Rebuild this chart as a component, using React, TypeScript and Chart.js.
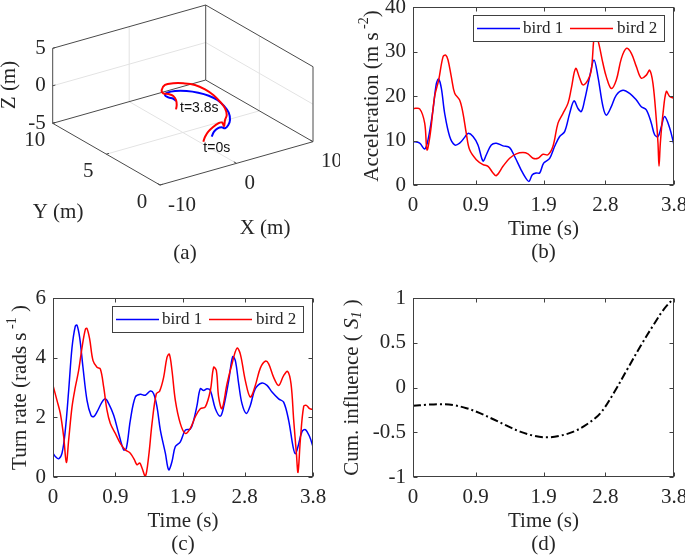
import React, { useEffect, useRef } from "react";
import { Chart, registerables } from "chart.js";

Chart.register(...registerables);

// ---------- shared ----------
const seriesNames = ["bird 1", "bird 2"];
const timeTickValues = [0, 0.91, 1.9, 2.8, 3.8];
const timeTickLabels = ["0", "0.9", "1.9", "2.8", "3.8"];

// ---------- (b) acceleration ----------
const accTime1 = [0, 0.097, 0.17, 0.218, 0.291, 0.34, 0.374, 0.413, 0.461, 0.534, 0.607, 0.679, 0.752, 0.801, 0.874, 0.946, 1.019, 1.068, 1.14, 1.213, 1.31, 1.407, 1.48, 1.577, 1.64, 1.689, 1.737, 1.796, 1.844, 1.902, 1.99, 2.063, 2.135, 2.208, 2.281, 2.344, 2.402, 2.451, 2.499, 2.572, 2.635, 2.693, 2.766, 2.815, 2.887, 2.96, 3.057, 3.154, 3.252, 3.324, 3.397, 3.47, 3.518, 3.567, 3.615, 3.664, 3.737, 3.8];
const accBird1 = [9.8, 9.4, 8.1, 10.1, 16.9, 22.8, 23.8, 21.7, 16.1, 10.9, 9.0, 9.4, 10.7, 11.6, 10.9, 9.0, 5.4, 6.8, 9.0, 9.4, 8.8, 8.4, 6.4, 3.3, 1.6, 0.8, 2.3, 2.7, 2.7, 4.9, 6.0, 8.7, 10.9, 12.0, 16.1, 18.9, 17.2, 16.5, 19.1, 24.3, 28.1, 24.3, 17.6, 15.7, 17.6, 20.2, 21.3, 20.6, 19.1, 17.6, 16.9, 13.9, 11.3, 10.9, 13.1, 15.4, 12.8, 9.0];
const accTime2 = [0, 0.097, 0.17, 0.204, 0.252, 0.315, 0.374, 0.437, 0.476, 0.51, 0.558, 0.607, 0.679, 0.728, 0.776, 0.825, 0.922, 1.019, 1.092, 1.165, 1.213, 1.31, 1.407, 1.504, 1.601, 1.674, 1.747, 1.82, 1.893, 1.965, 2.038, 2.111, 2.184, 2.257, 2.305, 2.368, 2.427, 2.475, 2.548, 2.596, 2.645, 2.693, 2.766, 2.815, 2.887, 2.96, 3.033, 3.106, 3.179, 3.252, 3.324, 3.397, 3.446, 3.494, 3.543, 3.567, 3.582, 3.601, 3.64, 3.688, 3.737, 3.8];
const accBird2 = [17.2, 17.1, 13.9, 7.9, 11.6, 19.9, 23.6, 28.8, 29.2, 28.1, 24.3, 20.6, 19.1, 16.1, 11.6, 7.9, 5.7, 4.6, 4.2, 2.7, 2.1, 4.2, 6.0, 7.0, 7.3, 7.0, 6.0, 6.0, 6.9, 6.8, 8.7, 13.9, 16.1, 18.4, 21.7, 26.2, 24.0, 22.5, 23.6, 25.8, 34.0, 32.5, 27.3, 24.3, 21.7, 23.6, 28.4, 30.7, 29.6, 26.6, 24.0, 24.7, 25.8, 22.8, 14.6, 9.4, 4.2, 9.4, 16.1, 21.0, 19.9, 19.5];
const accTickValues = [0, 10, 20, 30, 40];
const accTickLabels = ["0", "10", "20", "30", "40"];

// ---------- (c) turn rate ----------
const turnTime1 = [0, 0.034, 0.083, 0.132, 0.18, 0.229, 0.278, 0.326, 0.351, 0.39, 0.438, 0.497, 0.555, 0.594, 0.643, 0.716, 0.765, 0.814, 0.887, 0.96, 1.033, 1.072, 1.13, 1.203, 1.276, 1.35, 1.423, 1.471, 1.52, 1.569, 1.642, 1.691, 1.739, 1.788, 1.861, 1.934, 2.007, 2.056, 2.105, 2.153, 2.202, 2.251, 2.3, 2.373, 2.446, 2.494, 2.568, 2.626, 2.665, 2.714, 2.762, 2.826, 2.884, 2.957, 3.055, 3.128, 3.201, 3.298, 3.371, 3.444, 3.508, 3.542, 3.581, 3.639, 3.688, 3.751, 3.8];
const turnBird1 = [0.8, 0.69, 0.61, 0.8, 1.57, 2.9, 4.34, 5.06, 5.09, 4.67, 3.68, 2.57, 2.07, 2.02, 2.18, 2.51, 2.62, 2.46, 2.07, 1.46, 0.91, 0.96, 1.9, 2.68, 2.77, 2.74, 2.88, 2.79, 2.35, 1.57, 0.8, 0.24, 0.52, 1.02, 1.18, 1.57, 1.61, 1.9, 2.4, 2.96, 2.9, 2.96, 2.9, 2.29, 2.04, 2.35, 3.23, 4.03, 3.9, 3.12, 2.46, 2.13, 2.4, 2.96, 3.15, 3.07, 2.85, 2.62, 2.51, 1.9, 1.02, 0.78, 1.02, 1.52, 1.59, 1.35, 1.02];
const turnTime2 = [0, 0.058, 0.107, 0.156, 0.195, 0.229, 0.278, 0.326, 0.375, 0.424, 0.473, 0.497, 0.536, 0.585, 0.643, 0.692, 0.741, 0.789, 0.838, 0.911, 0.984, 1.057, 1.13, 1.189, 1.228, 1.267, 1.301, 1.35, 1.398, 1.447, 1.51, 1.559, 1.617, 1.666, 1.7, 1.739, 1.788, 1.861, 1.934, 2.007, 2.08, 2.153, 2.226, 2.3, 2.348, 2.387, 2.421, 2.47, 2.543, 2.616, 2.689, 2.738, 2.811, 2.884, 2.957, 3.03, 3.103, 3.152, 3.225, 3.298, 3.371, 3.43, 3.479, 3.518, 3.557, 3.581, 3.615, 3.664, 3.703, 3.751, 3.8];
const turnBird2 = [3.07, 2.57, 2.13, 1.35, 0.49, 1.24, 2.35, 3.01, 3.57, 4.34, 4.95, 4.98, 4.62, 3.9, 3.68, 3.62, 3.01, 2.24, 1.79, 1.46, 1.13, 0.91, 0.8, 0.58, 0.41, 0.47, 0.3, 0.02, 0.69, 1.79, 2.79, 2.88, 3.34, 4.01, 4.12, 3.57, 2.57, 1.79, 1.46, 1.63, 2.02, 2.29, 2.35, 2.9, 3.68, 3.57, 2.68, 2.29, 3.12, 3.79, 4.32, 4.12, 3.23, 2.68, 3.07, 3.65, 3.88, 3.79, 3.34, 3.07, 3.4, 3.54, 3.12, 1.9, 0.8, 0.16, 1.24, 2.37, 2.4, 2.29, 2.26];
const turnTickValues = [0, 2, 4, 6];
const turnTickLabels = ["0", "2", "4", "6"];

// ---------- (d) cumulative influence ----------
const inflTime = [0, 0.195, 0.39, 0.585, 0.779, 0.974, 1.169, 1.364, 1.559, 1.754, 1.949, 2.144, 2.338, 2.533, 2.728, 2.923, 3.118, 3.313, 3.508, 3.654, 3.8];
const inflValues = [-0.205, -0.193, -0.186, -0.197, -0.231, -0.287, -0.355, -0.426, -0.493, -0.538, -0.557, -0.538, -0.493, -0.411, -0.287, -0.062, 0.201, 0.463, 0.707, 0.876, 1.0];
const inflTickValues = [-1, -0.5, 0, 0.5, 1];
const inflTickLabels = ["-1", "-0.5", "0", "0.5", "1"];

// ---------- (a) 3D trajectories ----------
const traj1X = [-0.4, 0.57, 1.41, 1.91, 2.05, 2.84, 3.75, 4.75, 5.36, 5.68, 5.59, 5.13, 4.37, 3.35, 2.42, 1.82, 1.8, 2.03, 1.91];
const traj1Y = [2.03, 2.5, 2.76, 2.74, 2.53, 2.79, 3.28, 4.11, 4.98, 5.84, 6.57, 7.22, 7.76, 8.12, 8.17, 7.96, 7.64, 7.33, 7.0];
const traj1Z = [-3, -3, -3, -3, -3, -3, -3, -3, -3, -3, -3, -3, -3, -3, -3, -3, -3, -3, -3];
const traj2X = [-1.89, -0.98, 0.07, 1.27, 2.22, 2.67, 2.31, 3.31, 4.22, 5.09, 5.66, 6.1, 6.24, 6.02, 5.25, 4.37, 3.39, 2.34, 1.97, 2.31, 2.44, 2.07, 1.37, 0.65];
const traj2Y = [1.74, 2.23, 2.68, 3.06, 3.28, 3.25, 2.81, 3.43, 3.92, 4.7, 5.57, 6.51, 7.38, 8.16, 8.7, 9.01, 9.08, 8.64, 8.23, 8.0, 7.63, 7.11, 6.55, 6.1];
const traj2Z = [-3, -3, -3, -3, -3, -3, -3, -3, -3, -3, -3, -3, -3, -3, -3, -3, -3, -3, -3, -3, -3, -3, -3, -3];
const xLim3 = [-10, 10];
const yLim3 = [0, 10];
const zLim3 = [-5, 5];
const xTicks3 = [-10, 0, 10];
const xTickLabels3 = ["-10", "0", "10"];
const yTicks3 = [0, 5, 10];
const yTickLabels3 = ["0", "5", "10"];
const zTicks3 = [-5, 0, 5];
const zTickLabels3 = ["-5", "0", "5"];
const startLabel = "t=0s";
const endLabel = "t=3.8s";

// ---------- styling ----------
const SERIF = "'Liberation Serif', 'Times New Roman', Times, serif";
const SANS = "'Liberation Sans', Arial, Helvetica, sans-serif";
const TEXT = "#262626";
const AXIS = "#404040";
const BLUE = "#0000ff";
const RED = "#ff0000";

type Seg = { t: string; size?: number; dy?: number; italic?: boolean };

function zip(xs: number[], ys: number[]) {
  return xs.map((x, i) => ({ x, y: ys[i] }));
}

function drawRich(ctx: CanvasRenderingContext2D, segs: Seg[], x: number, y: number, rotate: boolean) {
  ctx.save();
  ctx.translate(x, y);
  if (rotate) ctx.rotate(-Math.PI / 2);
  ctx.fillStyle = TEXT;
  ctx.textBaseline = "middle";
  ctx.textAlign = "left";
  const fonts = segs.map((s) => `${s.italic ? "italic " : ""}${s.size ?? 21}px ${SERIF}`);
  const widths = segs.map((s, i) => {
    ctx.font = fonts[i];
    return ctx.measureText(s.t).width;
  });
  const total = widths.reduce((a, b) => a + b, 0);
  let cx = -total / 2;
  segs.forEach((s, i) => {
    ctx.font = fonts[i];
    ctx.fillText(s.t, cx, s.dy ?? 0);
    cx += widths[i];
  });
  ctx.restore();
}

function drawLegend(ctx: CanvasRenderingContext2D, ca: any) {
  const w = 191;
  const h = 26;
  const x0 = Math.round(ca.right - 10 - w);
  const y0 = Math.round(ca.top + 8);
  ctx.save();
  ctx.fillStyle = "#ffffff";
  ctx.fillRect(x0, y0, w, h);
  ctx.strokeStyle = AXIS;
  ctx.lineWidth = 1;
  ctx.strokeRect(x0 + 0.5, y0 + 0.5, w, h);
  const cy = y0 + h / 2 + 0.5;
  const items = [
    { c: BLUE, label: seriesNames[0], lx: 4, tx: 50 },
    { c: RED, label: seriesNames[1], lx: 97, tx: 144 },
  ];
  ctx.font = `17px ${SERIF}`;
  ctx.textBaseline = "middle";
  ctx.textAlign = "left";
  items.forEach((it) => {
    ctx.strokeStyle = it.c;
    ctx.lineWidth = 1.5;
    ctx.beginPath();
    ctx.moveTo(x0 + it.lx, cy);
    ctx.lineTo(x0 + it.lx + 43, cy);
    ctx.stroke();
    ctx.fillStyle = TEXT;
    ctx.fillText(it.label, x0 + it.tx, cy);
  });
  ctx.restore();
}

interface PanelOpts {
  W: number;
  H: number;
  area: { l: number; t: number; r: number; b: number };
  yMin: number;
  yMax: number;
  yTicks: number[];
  yLabels: string[];
  datasets: any[];
  yTitle: Seg[];
  yTitleX: number;
  caption: string;
  legend: boolean;
}

function panelPlugin(o: PanelOpts) {
  return {
    id: "panelDecor",
    afterDraw(chart: any) {
      const { ctx, chartArea: ca, scales } = chart;
      const xs = scales.x;
      const ys = scales.y;
      ctx.save();
      ctx.strokeStyle = AXIS;
      ctx.lineWidth = 1;
      const L = Math.round(ca.left) + 0.5;
      const T = Math.round(ca.top) + 0.5;
      const R = Math.round(ca.right) - 0.5;
      const B = Math.round(ca.bottom) - 0.5;
      ctx.strokeRect(L, T, R - L, B - T);
      ctx.beginPath();
      xs.ticks.forEach((t: any) => {
        const p = Math.round(xs.getPixelForValue(t.value)) + 0.5;
        ctx.moveTo(p, B);
        ctx.lineTo(p, B - 4);
        ctx.moveTo(p, T);
        ctx.lineTo(p, T + 4);
      });
      ys.ticks.forEach((t: any) => {
        const p = Math.round(ys.getPixelForValue(t.value)) + 0.5;
        ctx.moveTo(L, p);
        ctx.lineTo(L + 4, p);
        ctx.moveTo(R, p);
        ctx.lineTo(R - 4, p);
      });
      ctx.stroke();
      ctx.fillStyle = TEXT;
      ctx.font = `21px ${SERIF}`;
      ctx.textAlign = "center";
      ctx.textBaseline = "middle";
      const cx = (ca.left + ca.right) / 2;
      ctx.fillText("Time (s)", cx, ca.bottom + 44);
      ctx.fillText(o.caption, cx, ca.bottom + 67);
      drawRich(ctx, o.yTitle, o.yTitleX, (ca.top + ca.bottom) / 2, true);
      if (o.legend) drawLegend(ctx, ca);
      ctx.restore();
    },
  };
}

function makePanel(canvas: HTMLCanvasElement, o: PanelOpts) {
  return new Chart(canvas, {
    type: "line",
    data: { datasets: o.datasets },
    options: {
      animation: false,
      responsive: false,
      events: [],
      layout: { padding: { left: 0, top: o.area.t, right: o.W - o.area.r, bottom: 0 } },
      plugins: { legend: { display: false }, tooltip: { enabled: false } },
      elements: { point: { radius: 0 } },
      scales: {
        x: {
          type: "linear",
          min: 0,
          max: 3.8,
          grid: { display: false, drawTicks: false },
          border: { display: false },
          afterBuildTicks: (s: any) => {
            s.ticks = timeTickValues.map((v) => ({ value: v }));
          },
          afterFit: (s: any) => {
            s.height = o.H - o.area.b;
            s.paddingLeft = 0;
            s.paddingRight = 0;
          },
          ticks: {
            autoSkip: false,
            maxRotation: 0,
            minRotation: 0,
            padding: 8,
            color: TEXT,
            font: { family: SERIF, size: 21 },
            callback: (_v: any, i: number) => timeTickLabels[i],
          },
        },
        y: {
          type: "linear",
          min: o.yMin,
          max: o.yMax,
          grid: { display: false, drawTicks: false },
          border: { display: false },
          afterBuildTicks: (s: any) => {
            s.ticks = o.yTicks.map((v) => ({ value: v }));
          },
          afterFit: (s: any) => {
            s.width = o.area.l;
            s.paddingTop = 0;
            s.paddingBottom = 0;
          },
          ticks: {
            padding: 7,
            color: TEXT,
            font: { family: SERIF, size: 21 },
            callback: (_v: any, i: number) => o.yLabels[i],
          },
        },
      },
    } as any,
    plugins: [panelPlugin(o) as any],
  });
}

// projection of the 3D view (azimuth / elevation as seen in the figure), in view units of the panel
const view = { ox: 236.5, oy: 125.85, ex: [7.65, -2.165], ey: [-10.73, -6.17], ez: [0, -7.5] };
function project(X: number, Y: number, Z: number) {
  return {
    x: view.ox + X * view.ex[0] + Y * view.ey[0] + Z * view.ez[0],
    y: view.oy + X * view.ex[1] + Y * view.ey[1] + Z * view.ez[1],
  };
}

function make3D(canvas: HTMLCanvasElement) {
  const [x0, x1] = xLim3;
  const [y0, y1] = yLim3;
  const [z0, z1] = zLim3;
  const segDs = (a: number[], b: number[], color: string, width: number, order: number) => ({
    data: [project(a[0], a[1], a[2]), project(b[0], b[1], b[2])],
    showLine: true,
    borderColor: color,
    borderWidth: width,
    pointRadius: 0,
    tension: 0,
    order,
  });
  const grid: number[][][] = [];
  xTicks3.filter((v) => v > x0 && v < x1).forEach((v) => {
    grid.push([[v, y1, z0], [v, y1, z1]]);
    grid.push([[v, y0, z0], [v, y1, z0]]);
  });
  yTicks3.filter((v) => v > y0 && v < y1).forEach((v) => {
    grid.push([[x1, v, z0], [x1, v, z1]]);
    grid.push([[x0, v, z0], [x1, v, z0]]);
  });
  zTicks3.filter((v) => v > z0 && v < z1).forEach((v) => {
    grid.push([[x0, y1, v], [x1, y1, v]]);
    grid.push([[x1, y0, v], [x1, y1, v]]);
  });
  const edges: number[][][] = [
    [[x0, y1, z0], [x0, y1, z1]],
    [[x1, y1, z0], [x1, y1, z1]],
    [[x1, y0, z0], [x1, y0, z1]],
    [[x0, y1, z1], [x1, y1, z1]],
    [[x1, y1, z1], [x1, y0, z1]],
    [[x0, y1, z0], [x1, y1, z0]],
    [[x1, y1, z0], [x1, y0, z0]],
    [[x0, y0, z0], [x1, y0, z0]],
    [[x0, y0, z0], [x0, y1, z0]],
  ];
  const ticks: number[][][] = [];
  xTicks3.forEach((v) => ticks.push([[v, y0, z0], [v, y0 + 0.25, z0]]));
  yTicks3.forEach((v) => ticks.push([[x0, v, z0], [x0 + 0.35, v, z0]]));
  zTicks3.forEach((v) => ticks.push([[x0, y1, v], [x0 + 0.35, y1, v]]));

  const datasets: any[] = [
    ...grid.map((g) => segDs(g[0], g[1], "#e3e3e3", 1, 10)),
    ...edges.map((e) => segDs(e[0], e[1], "#4a4a4a", 1, 9)),
    ...ticks.map((e) => segDs(e[0], e[1], "#4a4a4a", 1, 9)),
    {
      label: seriesNames[0],
      data: traj1X.map((x, i) => project(x, traj1Y[i], traj1Z[i])),
      showLine: true,
      borderColor: BLUE,
      borderWidth: 2,
      pointRadius: 0,
      tension: 0.4,
      order: 1,
    },
    {
      label: seriesNames[1],
      data: traj2X.map((x, i) => project(x, traj2Y[i], traj2Z[i])),
      showLine: true,
      borderColor: RED,
      borderWidth: 2,
      pointRadius: 0,
      tension: 0.4,
      order: 0,
    },
  ];

  const plugin = {
    id: "axes3d",
    afterDraw(chart: any) {
      const { ctx, scales } = chart;
      const P = (X: number, Y: number, Z: number) => {
        const p = project(X, Y, Z);
        return { x: scales.x.getPixelForValue(p.x), y: scales.y.getPixelForValue(p.y) };
      };
      ctx.save();
      ctx.fillStyle = TEXT;
      ctx.font = `21px ${SERIF}`;
      ctx.textBaseline = "middle";
      ctx.textAlign = "right";
      zTicks3.forEach((v, i) => {
        const p = P(x0, y1, v);
        ctx.fillText(zTickLabels3[i], p.x - 7, p.y);
      });
      ctx.textAlign = "center";
      yTicks3.forEach((v, i) => {
        const p = P(x0, v, z0);
        ctx.fillText(yTickLabels3[i], p.x - 18, p.y + 17);
      });
      ctx.textAlign = "left";
      xTicks3.forEach((v, i) => {
        const p = P(v, y0, z0);
        ctx.fillText(xTickLabels3[i], p.x + 8, p.y + 20);
      });
      ctx.textAlign = "center";
      ctx.fillText("X (m)", 265, 228);
      ctx.fillText("Y (m)", 58, 212);
      ctx.fillText("(a)", 185, 253);
      drawRich(ctx, [{ t: "Z (m)" }], 9, 85, true);
      // annotations
      ctx.fillStyle = "#111111";
      ctx.font = `14px ${SANS}`;
      ctx.textAlign = "left";
      const n = traj2X.length - 1;
      const pe = P(traj2X[n], traj2Y[n], traj2Z[n]);
      ctx.fillText(endLabel, pe.x + 4, pe.y - 1);
      const ps = P(traj2X[0], traj2Y[0], traj2Z[0]);
      ctx.fillText(startLabel, ps.x, ps.y + 6);
      ctx.restore();
    },
  };

  return new Chart(canvas, {
    type: "scatter",
    data: { datasets },
    options: {
      animation: false,
      responsive: false,
      events: [],
      layout: { padding: 0 },
      plugins: { legend: { display: false }, tooltip: { enabled: false } },
      scales: {
        x: { type: "linear", min: 0, max: 340, display: false },
        y: { type: "linear", min: 0, max: 280, reverse: true, display: false },
      },
    } as any,
    plugins: [plugin as any],
  });
}

export default function App() {
  const ra = useRef<HTMLCanvasElement>(null);
  const rb = useRef<HTMLCanvasElement>(null);
  const rc = useRef<HTMLCanvasElement>(null);
  const rd = useRef<HTMLCanvasElement>(null);

  useEffect(() => {
    const charts: Chart[] = [];
    charts.push(make3D(ra.current!));
    charts.push(
      makePanel(rb.current!, {
        W: 345,
        H: 280,
        area: { l: 73, t: 7, r: 334, b: 185 },
        yMin: 0,
        yMax: 40,
        yTicks: accTickValues,
        yLabels: accTickLabels,
        datasets: [
          { label: seriesNames[0], data: zip(accTime1, accBird1), borderColor: BLUE, borderWidth: 1.5, tension: 0.35, pointRadius: 0, order: 1 },
          { label: seriesNames[1], data: zip(accTime2, accBird2), borderColor: RED, borderWidth: 1.5, tension: 0.35, pointRadius: 0, order: 0 },
        ],
        yTitle: [{ t: "Acceleration (m s" }, { t: " -2", size: 14, dy: -8 }, { t: ")" }],
        yTitleX: 32,
        caption: "(b)",
        legend: true,
      })
    );
    charts.push(
      makePanel(rc.current!, {
        W: 340,
        H: 279,
        area: { l: 53, t: 18, r: 313, b: 197 },
        yMin: 0,
        yMax: 6,
        yTicks: turnTickValues,
        yLabels: turnTickLabels,
        datasets: [
          { label: seriesNames[0], data: zip(turnTime1, turnBird1), borderColor: BLUE, borderWidth: 1.5, tension: 0.35, pointRadius: 0, order: 1 },
          { label: seriesNames[1], data: zip(turnTime2, turnBird2), borderColor: RED, borderWidth: 1.5, tension: 0.35, pointRadius: 0, order: 0 },
        ],
        yTitle: [{ t: "Turn rate (rads s" }, { t: " -1", size: 14, dy: -8 }, { t: " )" }],
        yTitleX: 20,
        caption: "(c)",
        legend: true,
      })
    );
    charts.push(
      makePanel(rd.current!, {
        W: 345,
        H: 279,
        area: { l: 73, t: 18, r: 334, b: 197 },
        yMin: -1,
        yMax: 1,
        yTicks: inflTickValues,
        yLabels: inflTickLabels,
        datasets: [
          { label: "S1", data: zip(inflTime, inflValues), borderColor: "#000000", borderWidth: 2, borderDash: [8, 3, 2, 3], tension: 0.35, pointRadius: 0 },
        ],
        yTitle: [{ t: "Cum. influence ( " }, { t: "S", italic: true }, { t: "1", size: 14, dy: 5, italic: true }, { t: " )" }],
        yTitleX: 12,
        caption: "(d)",
        legend: false,
      })
    );
    return () => charts.forEach((c) => c.destroy());
  }, []);

  const cv = (ref: any, left: number, top: number, w: number, h: number) => (
    <canvas ref={ref} width={w} height={h} style={{ position: "absolute", left, top, width: w, height: h }} />
  );

  return (
    <div style={{ position: "absolute", left: 0, top: 0, width: 685, height: 559, background: "#ffffff", overflow: "hidden" }}>
      {cv(ra, 0, 0, 340, 280)}
      {cv(rb, 340, 0, 345, 280)}
      {cv(rc, 0, 280, 340, 279)}
      {cv(rd, 340, 280, 345, 279)}
    </div>
  );
}
